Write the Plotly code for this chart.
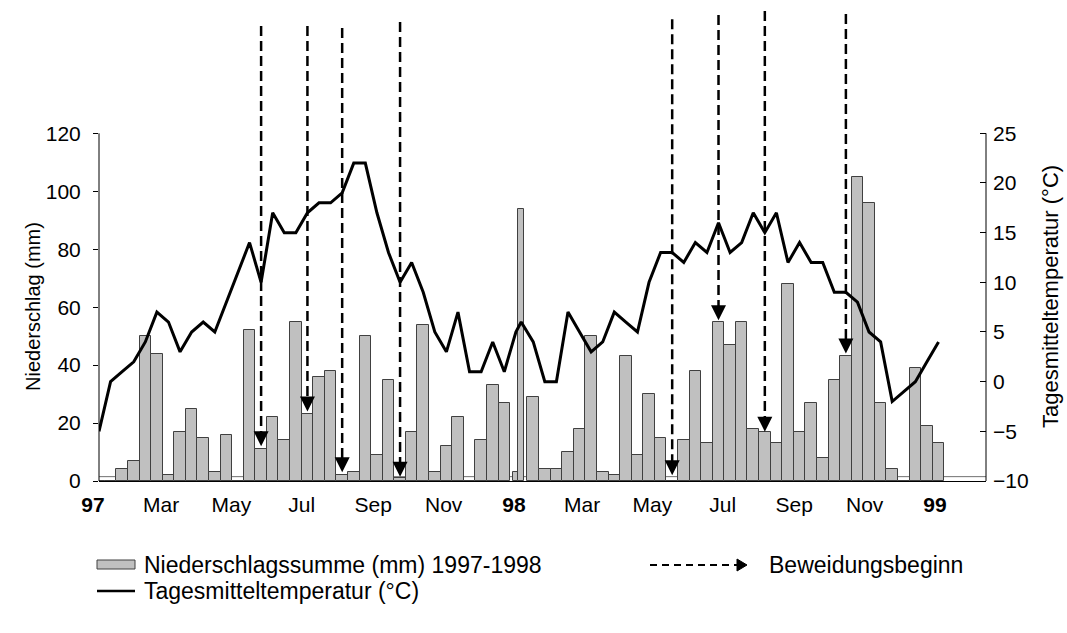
import plotly.graph_objects as go
import datetime as _dt

# ---------------- data ----------------
# 10-day precipitation sums (mm), 36 dekads per year
precip_1997 = [0, 0, 4, 7, 50, 44, 2, 17, 25, 15, 3, 16, 0, 52, 11, 22, 14, 55,
               23, 36, 38, 2, 3, 50, 9, 35, 1, 17, 54, 3, 12, 22, 0, 14, 33, 27]
precip_1998 = [29, 4, 4, 10, 18, 50, 3, 2, 43, 9, 30, 15, 0, 14, 38, 13, 55, 47,
               55, 18, 17, 13, 68, 17, 27, 8, 35, 43, 105, 96, 27, 4, 0, 39, 19, 13]
# the two narrow bars at the turn of the year
precip_turn = [3, 94]

# mean daily temperature (°C) per dekad
temp_1997 = [-5, 0, 1, 2, 4, 7, 6, 3, 5, 6, 5, 8, 11, 14, 10, 17, 15, 15,
             17, 18, 18, 19, 22, 22, 17, 13, 10, 12, 9, 5, 3, 7, 1, 1, 4, 1]
temp_1998 = [4, 0, 0, 7, 5, 3, 4, 7, 6, 5, 10, 13, 13, 12, 14, 13, 16, 13,
             14, 17, 15, 17, 12, 14, 12, 12, 9, 9, 8, 5, 4, -2, -1, 0, 2, 4]
temp_turn = [5, 6]

# start of grazing (Beweidungsbeginn): year, dekad index, arrow tip (mm), line top (mm)
graze_year = [1997, 1997, 1997, 1997, 1998, 1998, 1998, 1998]
graze_dekad = [14, 18, 21, 26, 12, 16, 20, 27]
graze_tip = [12, 24, 3, 1.5, 2, 55.5, 17, 44]
graze_top = [157.0, 157.0, 156.3, 158.4, 159.4, 160.8, 162.2, 161.2]

# x-axis tick labels
tick_dates = ["1997-01-01", "1997-03-01", "1997-05-01", "1997-07-01", "1997-09-01",
              "1997-11-01", "1998-01-01", "1998-03-01", "1998-05-01", "1998-07-01",
              "1998-09-01", "1998-11-01", "1999-01-01"]
tick_text = ["<b>97</b>", "Mar", "May", "Jul", "Sep", "Nov", "<b>98</b>",
             "Mar", "May", "Jul", "Sep", "Nov", "<b>99</b>"]

# ---------------- layout helpers ----------------
W, H = 1067, 633
ML, MR, MT, MB = 99, 81, 8, 152
PLOT_W = W - ML - MR
PLOT_H = H - MT - MB
X_MAX = 76.6                     # axis length in dekad units
Y0_PX, Y120_PX = 481.0, 133.3    # pixel rows of 0 mm and 120 mm
PX_PER_MM = (Y0_PX - Y120_PX) / 120.0
Y_TOP = (Y0_PX - MT) / PX_PER_MM
Y2_TOP = -10 + Y_TOP * 35.0 / 120.0
YEAR_START = {1997: 0.0, 1998: 37.5}
TURN_POS = [36.0, 36.46]
TURN_W = [0.43, 0.48]
DAYS_PER_UNIT = 365.0 * (PLOT_W / X_MAX) / 421.0

def pos(year, k):
    return YEAR_START[year] + k

x_all = ([pos(1997, k) for k in range(len(precip_1997))] + TURN_POS +
         [pos(1998, k) for k in range(len(precip_1998))])
w_all = [1.0] * len(precip_1997) + TURN_W + [1.0] * len(precip_1998)
p_all = precip_1997 + precip_turn + precip_1998
t_all = temp_1997 + temp_turn + temp_1998

d0 = _dt.date(1997, 1, 1)
tick_vals = [(_dt.date.fromisoformat(d) - d0).days / DAYS_PER_UNIT for d in tick_dates]

def px(x):
    return (x - ML) / PLOT_W

def py(y):
    return (Y0_PX - y) / PLOT_H

FONT = "Liberation Sans, Arial, sans-serif"
FS_TICK = 21
FS_LEG = 23
FS_TITLE = 20
FS_TITLE2 = 22

fig = go.Figure()
fig.add_trace(go.Bar(
    x=x_all, y=p_all, width=w_all, showlegend=False,
    name="Niederschlagssumme (mm) 1997-1998",
    marker=dict(color="#C0C0C0", line=dict(color="#404040", width=1)),
))
fig.add_trace(go.Scatter(
    x=x_all, y=t_all, yaxis="y2", mode="lines", showlegend=False,
    name="Tagesmitteltemperatur (°C)",
    line=dict(color="black", width=3),
))

gx = [pos(y, k) for y, k in zip(graze_year, graze_dekad)]
fig.add_trace(go.Scatter(
    x=gx, y=graze_tip, mode="markers", showlegend=False, name="Beweidungsbeginn",
    marker=dict(symbol="arrow-down", size=15, color="black", line=dict(width=0)),
))

shapes = []
# thin grey reference line just above the x axis
shapes.append(dict(type="line", xref="paper", yref="y", x0=0, x1=1, y0=1.5, y1=1.5,
                   line=dict(color="#707070", width=1), layer="below"))
# left and right axis lines (0..120 mm only)
for xp in (0, 1):
    shapes.append(dict(type="line", xref="paper", yref="y", x0=xp, x1=xp, y0=0, y1=120,
                       line=dict(color="black", width=1)))
# dashed grazing lines
for x, tip, top in zip(gx, graze_tip, graze_top):
    shapes.append(dict(type="line", xref="x", yref="y", x0=x, x1=x, y0=top, y1=tip + 3,
                       line=dict(color="black", width=2.5, dash="10px,5px")))

# legend (manual)
shapes.append(dict(type="rect", xref="paper", yref="paper",
                   x0=px(97), x1=px(135), y0=py(569), y1=py(560),
                   fillcolor="#C0C0C0", line=dict(color="#404040", width=1)))
shapes.append(dict(type="line", xref="paper", yref="paper",
                   x0=px(97), x1=px(135), y0=py(591), y1=py(591),
                   line=dict(color="black", width=2.5)))
shapes.append(dict(type="line", xref="paper", yref="paper",
                   x0=px(650), x1=px(738), y0=py(565), y1=py(565),
                   line=dict(color="black", width=2, dash="7px,5px")))
shapes.append(dict(type="path", xref="paper", yref="paper",
                   path="M {a},{b} L {c},{d} L {a},{e} Z".format(
                       a=px(737), b=py(559), c=px(747), d=py(565), e=py(571)),
                   fillcolor="black", line=dict(color="black", width=1)))

annotations = [
    dict(xref="paper", yref="paper", x=px(142), y=py(565), xanchor="left", yanchor="middle",
         text="Niederschlagssumme (mm) 1997-1998", showarrow=False,
         font=dict(family=FONT, size=FS_LEG, color="black")),
    dict(xref="paper", yref="paper", x=px(767), y=py(565), xanchor="left", yanchor="middle",
         text="Beweidungsbeginn", showarrow=False,
         font=dict(family=FONT, size=FS_LEG, color="black")),
    dict(xref="paper", yref="paper", x=px(142), y=py(591), xanchor="left", yanchor="middle",
         text="Tagesmitteltemperatur (°C)", showarrow=False,
         font=dict(family=FONT, size=FS_LEG, color="black")),
    dict(xref="paper", yref="paper", x=px(33), y=py(307), xanchor="center", yanchor="middle",
         text="Niederschlag (mm)", textangle=-90, showarrow=False,
         font=dict(family=FONT, size=FS_TITLE, color="black")),
    dict(xref="paper", yref="paper", x=px(1050), y=py(297), xanchor="center", yanchor="middle",
         text="Tagesmitteltemperatur (°C)", textangle=-90, showarrow=False,
         font=dict(family=FONT, size=FS_TITLE2, color="black")),
]

fig.update_layout(
    width=W, height=H, autosize=False,
    margin=dict(l=ML, r=MR, t=MT, b=MB, pad=0),
    paper_bgcolor="white", plot_bgcolor="white",
    barmode="overlay", bargap=0,
    font=dict(family=FONT, size=FS_TICK, color="black"),
    showlegend=False,
    xaxis=dict(range=[0, X_MAX], tickmode="array", tickvals=tick_vals, ticktext=tick_text,
               ticks="", showline=True, linecolor="black", linewidth=1,
               showgrid=False, zeroline=False, ticklabelshift=-6, ticklabelstandoff=5,
               tickfont=dict(family=FONT, size=FS_TICK, color="black")),
    yaxis=dict(range=[0, Y_TOP], tickmode="array", tickvals=list(range(0, 121, 20)),
               ticks="outside", ticklen=5, tickcolor="black", showline=False,
               showgrid=False, zeroline=False, ticklabelstandoff=8,
               tickfont=dict(family=FONT, size=FS_TICK, color="black")),
    yaxis2=dict(range=[-10, Y2_TOP], overlaying="y", side="right", tickmode="array",
                tickvals=list(range(-10, 26, 5)), ticks="inside", ticklen=6,
                tickcolor="black", showline=False, showgrid=False, zeroline=False,
                ticklabelstandoff=6,
                tickfont=dict(family=FONT, size=FS_TICK, color="black")),
    shapes=shapes, annotations=annotations,
)

fig.write_html("out.html", config={"displayModeBar": False},
               post_script="document.body.style.margin='0';")
